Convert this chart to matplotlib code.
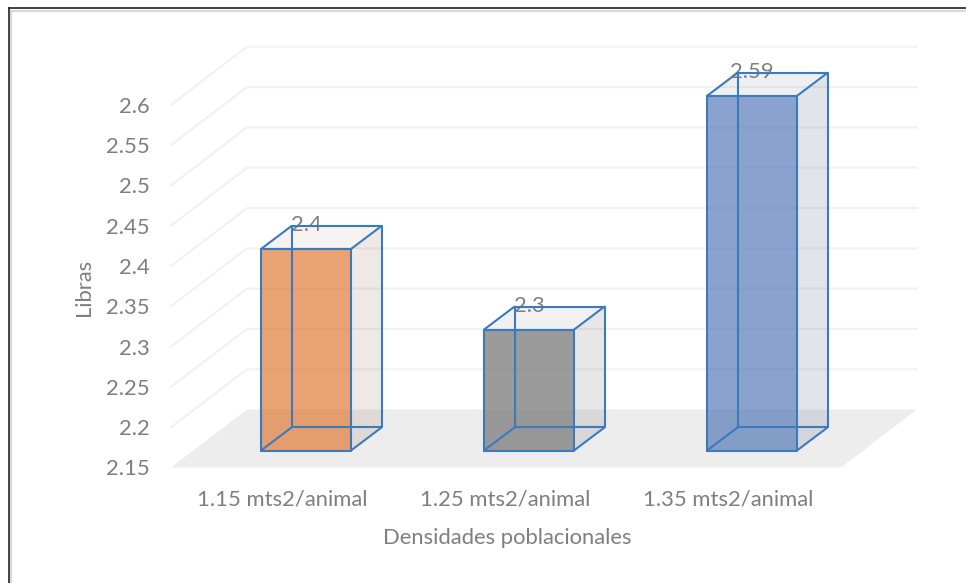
import matplotlib
matplotlib.use("Agg")
import matplotlib.pyplot as plt
from matplotlib.patches import Polygon

categories = ["1.15 mts2/animal", "1.25 mts2/animal", "1.35 mts2/animal"]
values = [2.4, 2.3, 2.59]
value_labels = ["2.4", "2.3", "2.59"]
y_ticks = [2.15, 2.2, 2.25, 2.3, 2.35, 2.4, 2.45, 2.5, 2.55, 2.6]
y_tick_labels = ["2.15", "2.2", "2.25", "2.3", "2.35", "2.4", "2.45", "2.5", "2.55", "2.6"]
x_title = "Densidades poblacionales"
y_title = "Libras"

W, H = 966, 583
PX_X = 223.0    # pixels per category
PX_Y = 806.0    # pixels per unit of value
X0 = 306.0      # pixel of first category centre
Y0 = 450.5      # pixel of the axis minimum at the bars' front base
BASE = y_ticks[0]

front = [("#E07B39", 0.70), ("#7A7A7A", 0.75), ("#587BB8", 0.70)]
side = ["#7A4A2A", "#555555", "#3A4F70"]
side_alpha = [0.12, 0.14, 0.15]
EDGE = "#3A7ABD"
TEXT = "#7F7F7F"
GRID = "#F2F2F2"
FLOOR = "#EDEDED"
FONT = "Lato"
FS = 15.8

fig = plt.figure(figsize=(W / 100, H / 100), dpi=100, facecolor="white")
ax = fig.add_axes([0, 0, 1, 1])
ax.set_xlim(-X0 / PX_X, (W - X0) / PX_X)
ax.set_ylim(BASE - (H - Y0) / PX_Y, BASE + Y0 / PX_Y)
ax.axis("off")


def dx(p):
    return p / PX_X


def dy(p):
    return p / PX_Y


# plot-box geometry, as pixel offsets from the first category / bar base
LEFT = dx(171 - X0)
RIGHT = dx(841 - X0)
DROP = dy(17)
DEPTH_X, DEPTH_Y = dx(76), dy(58)

# floor
ax.add_patch(Polygon([(LEFT, BASE - DROP), (RIGHT, BASE - DROP),
                      (RIGHT + DEPTH_X, BASE - DROP + DEPTH_Y),
                      (LEFT + DEPTH_X, BASE - DROP + DEPTH_Y)],
                     closed=True, fc=FLOOR, ec="none", zorder=1))

# gridlines and tick labels
for t, lab in zip(y_ticks, y_tick_labels):
    yy = t - DROP
    if t != BASE:
        ax.plot([LEFT, LEFT + DEPTH_X, RIGHT + DEPTH_X],
                [yy, yy + DEPTH_Y, yy + DEPTH_Y],
                color=GRID, lw=1.5, zorder=1, solid_joinstyle="miter")
    ax.text(LEFT - dx(21), yy, lab, ha="right", va="center_baseline",
            color=TEXT, fontsize=FS, family=FONT)

# bars
HALF = dx(45)
BX, BY = dx(30.5), dy(23)
for i, (v, lab, cat) in enumerate(zip(values, value_labels, categories)):
    x0, x1 = i - HALF, i + HALF
    col, alpha = front[i]
    # right side face and top face
    ax.add_patch(Polygon([(x1, BASE), (x1 + BX, BASE + BY), (x1 + BX, v + BY), (x1, v)],
                         closed=True, fc=side[i], alpha=side_alpha[i], ec="none", zorder=2))
    ax.add_patch(Polygon([(x0, v), (x1, v), (x1 + BX, v + BY), (x0 + BX, v + BY)],
                         closed=True, fc=side[i], alpha=side_alpha[i] * 0.6, ec="none", zorder=2))
    # data label
    ax.text(i, v + BY + dy(3), lab, ha="center", va="center_baseline",
            color=TEXT, fontsize=FS, family=FONT, zorder=3)
    # front face
    ax.add_patch(Polygon([(x0, BASE), (x1, BASE), (x1, v), (x0, v)],
                         closed=True, fc=col, alpha=alpha, ec="none", zorder=4))
    # box wireframe
    segs = [
        ([x0, x1, x1, x0, x0], [BASE, BASE, v, v, BASE]),
        ([x0 + BX, x1 + BX, x1 + BX, x0 + BX, x0 + BX],
         [BASE + BY, BASE + BY, v + BY, v + BY, BASE + BY]),
        ([x0, x0 + BX], [BASE, BASE + BY]),
        ([x1, x1 + BX], [BASE, BASE + BY]),
        ([x0, x0 + BX], [v, v + BY]),
        ([x1, x1 + BX], [v, v + BY]),
    ]
    for sx, sy in segs:
        ax.plot(sx, sy, color=EDGE, lw=1.5, zorder=5, solid_capstyle="round")
    # category label
    ax.text(i - dx(23.5), BASE - dy(49), cat, ha="center", va="center",
            color=TEXT, fontsize=FS, family=FONT)

# axis titles
ax.text(dx(507 - X0), BASE - dy(87.5), x_title, ha="center", va="center",
        color=TEXT, fontsize=FS, family=FONT)
ax.text(dx(84 - X0), BASE + dy(Y0 - 287), y_title, ha="center", va="center",
        rotation=90, color=TEXT, fontsize=FS, family=FONT)

# outer picture frame (figure coordinates)
for (xs, ys, c, lw) in [
    ([11 / W, 11 / W], [0, 1 - 10.5 / H], "#D9D9D9", 1.6),
    ([11 / W, 1], [1 - 10.5 / H, 1 - 10.5 / H], "#D9D9D9", 1.6),
    ([8.5 / W, 8.5 / W], [0, 1 - 8 / H], "#222222", 1.2),
    ([8.5 / W, 1], [1 - 8 / H, 1 - 8 / H], "#222222", 1.2),
]:
    fig.add_artist(plt.Line2D(xs, ys, color=c, lw=lw, transform=fig.transFigure))

fig.savefig("out.png", dpi=100, facecolor="white")
